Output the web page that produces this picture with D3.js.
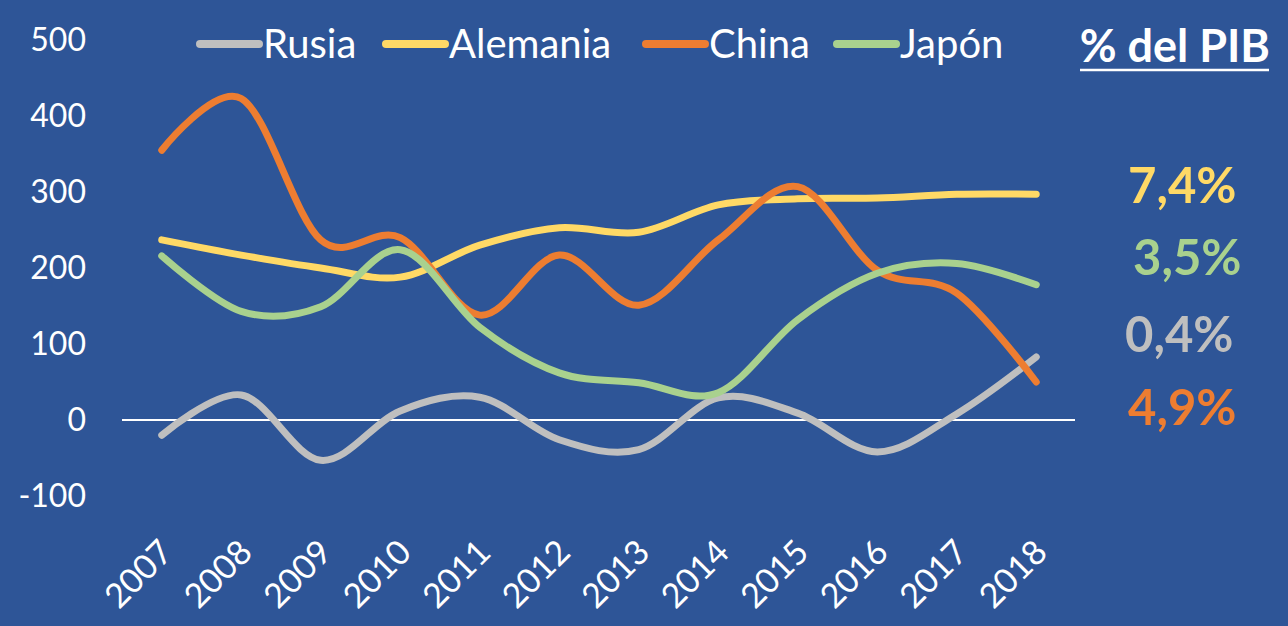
<!DOCTYPE html>
<html>
<head>
<meta charset="UTF-8">
<title>Rusia, Alemania, China, Japón</title>
<script src="https://d3js.org/d3.v7.min.js"></script>
<style>
  html, body { margin: 0; padding: 0; background: #2E5597; }
  svg { display: block; font-family: Lato, "Open Sans", sans-serif; }
</style>
</head>
<body>
<svg id="chart" width="1288" height="626"></svg>
<script>
// datos
const years = ["2007","2008","2009","2010","2011","2012","2013","2014","2015","2016","2017","2018"];
const rusia    = [-20, 33, -53, 12, 30, -26, -39, 29, 9, -42, 8, 83];
const alemania = [237, 217, 200, 188, 230, 253, 247, 283, 291, 292, 297, 297];
const china    = [355, 423, 237, 240, 138, 217, 151, 237, 307, 197, 167, 50];
const japon    = [216, 143, 149, 224, 122, 62, 49, 36, 132, 193, 206, 178];
const yTicks   = [-100, 0, 100, 200, 300, 400, 500];
const pibLabels = ["7,4%", "3,5%", "0,4%", "4,9%"]; // Alemania, Japón, Rusia, China

const series = [
  { name: "Rusia",    values: rusia,    color: "#BFBFBF" },
  { name: "Alemania", values: alemania, color: "#FFD966" },
  { name: "China",    values: china,    color: "#ED7D31" },
  { name: "Japón",    values: japon,    color: "#A9D18E" }
];

const svg = d3.select("#chart");
const W = 1288, H = 626;

svg.append("rect").attr("width", W).attr("height", H).attr("fill", "#2E5597");

const plot = { left: 122, right: 1076 };
const x = d3.scalePoint().domain(years).range([plot.left, plot.right]).padding(0.5);
const y = d3.scaleLinear().domain([-100, 500]).range([496, 40]);

// eje y
const yAxis = svg.append("g")
  .attr("transform", "translate(86,0)")
  .call(d3.axisLeft(y).tickValues(yTicks).tickSize(0).tickPadding(0).tickFormat(d => String(d)));
yAxis.select(".domain").remove();
yAxis.selectAll("text")
  .attr("fill", "#fff")
  .attr("font-size", 32)
  .attr("font-family", "Lato, sans-serif");

// línea del cero
svg.append("line")
  .attr("x1", plot.left).attr("x2", plot.right - 1)
  .attr("y1", y(0)).attr("y2", y(0))
  .attr("stroke", "#fff").attr("stroke-width", 2);

// eje x
const xAxis = svg.append("g")
  .attr("transform", "translate(0,546)")
  .call(d3.axisBottom(x).tickSize(0).tickPadding(0));
xAxis.select(".domain").remove();
xAxis.selectAll("text")
  .attr("fill", "#fff")
  .attr("font-size", 34)
  .attr("font-family", "Lato, sans-serif")
  .attr("text-anchor", "end")
  .attr("dy", "0.35em")
  .attr("transform", "translate(4,0) rotate(-45)");

// líneas suavizadas
const line = d3.line()
  .x((d, i) => x(years[i]))
  .y(d => y(d))
  .curve(d3.curveCardinal.tension(0));

svg.append("g").selectAll("path")
  .data(series)
  .join("path")
  .attr("d", d => line(d.values))
  .attr("fill", "none")
  .attr("stroke", d => d.color)
  .attr("stroke-width", 7)
  .attr("stroke-linecap", "round")
  .attr("stroke-linejoin", "round");

// leyenda
const legendX = [200, 386, 646, 837];
const legend = svg.append("g").selectAll("g")
  .data(series)
  .join("g")
  .attr("transform", (d, i) => `translate(${legendX[i]},44)`);
legend.append("line")
  .attr("x1", 0).attr("x2", 59)
  .attr("stroke", d => d.color)
  .attr("stroke-width", 8)
  .attr("stroke-linecap", "round");
legend.append("text")
  .attr("x", 63).attr("dy", "0.36em")
  .attr("fill", "#fff")
  .attr("font-size", 40)
  .text(d => d.name);

// % del PIB
svg.append("text")
  .attr("x", 1270).attr("y", 62)
  .attr("text-anchor", "end")
  .attr("fill", "#fff")
  .attr("font-size", 45)
  .attr("font-weight", "bold")
  .text("% del PIB");
svg.append("line")
  .attr("x1", 1080).attr("x2", 1269)
  .attr("y1", 70).attr("y2", 70)
  .attr("stroke", "#fff").attr("stroke-width", 2.5);

const pibOrder = [1, 3, 0, 2]; // Alemania, Japón, Rusia, China
const pibY = [185, 257, 334, 407];
const pibX = [1128, 1133, 1125, 1128];
svg.append("g").selectAll("text")
  .data(pibOrder)
  .join("text")
  .attr("x", (d, i) => pibX[i])
  .attr("y", (d, i) => pibY[i])
  .attr("dy", "0.36em")
  .attr("fill", d => series[d].color)
  .attr("font-size", 49)
  .attr("font-weight", "bold")
  .text((d, i) => pibLabels[i]);
</script>
</body>
</html>
